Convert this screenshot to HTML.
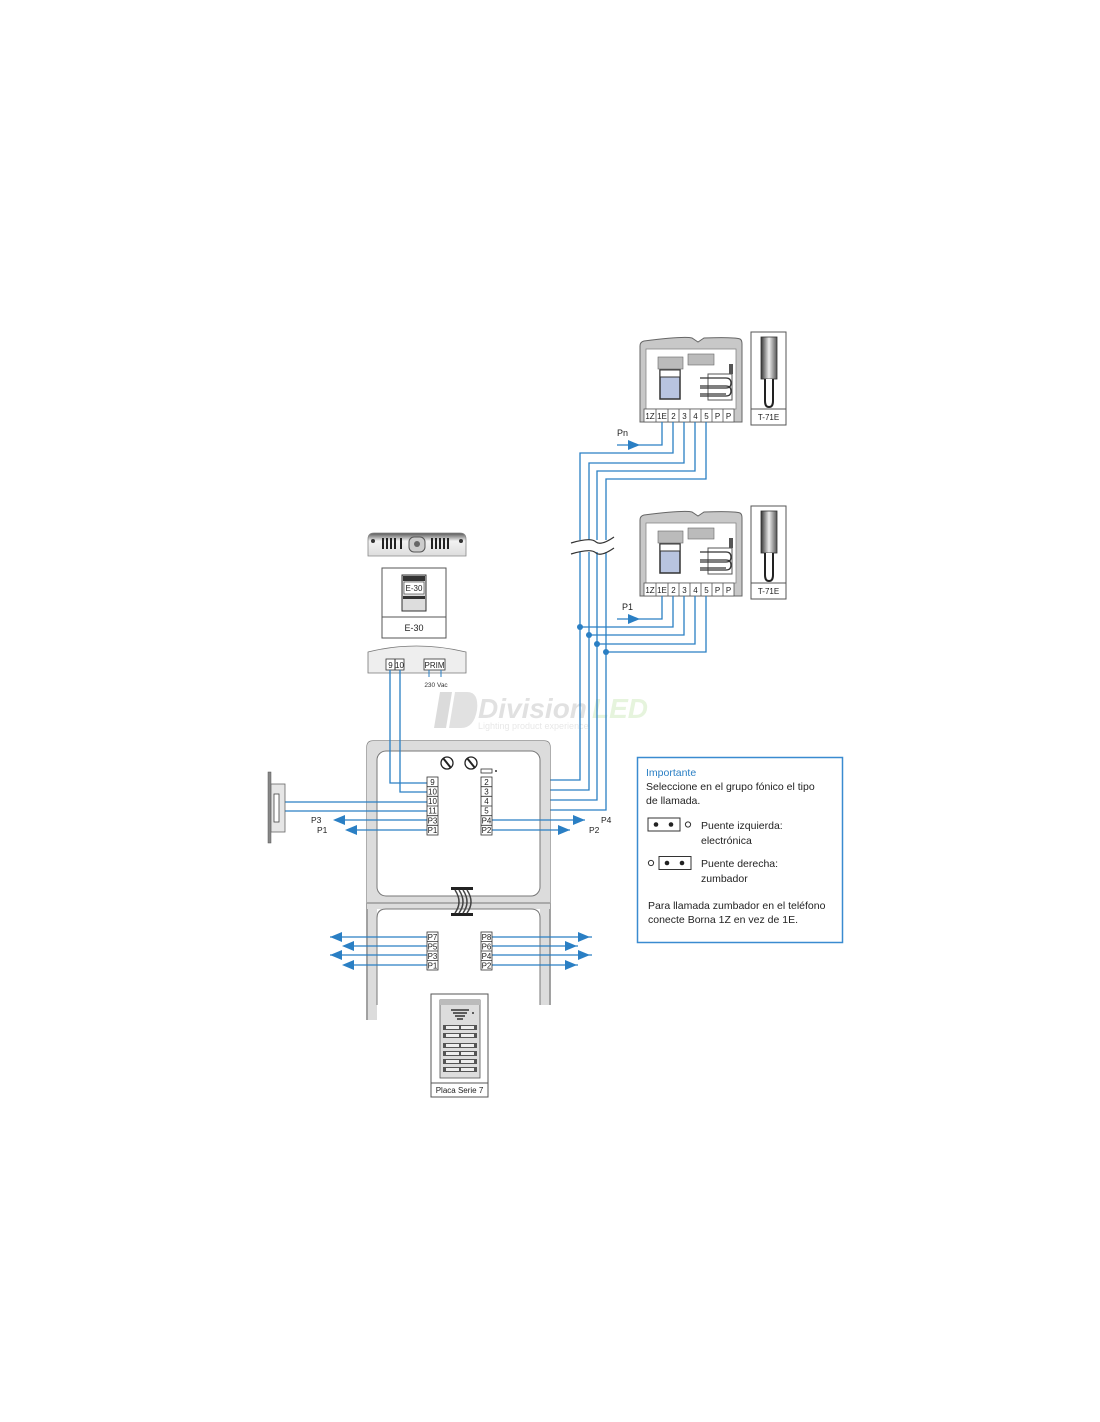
<!DOCTYPE html>
<html><head><meta charset="utf-8"><style>
html,body{margin:0;padding:0;background:#fff;}
svg{display:block;font-family:"Liberation Sans",sans-serif;}
</style></head><body>
<svg width="1100" height="1422" viewBox="0 0 1100 1422" xmlns="http://www.w3.org/2000/svg">
<defs>
<linearGradient id="hs" x1="0" x2="1"><stop offset="0" stop-color="#333"/><stop offset="0.5" stop-color="#eee"/><stop offset="1" stop-color="#555"/></linearGradient>
<linearGradient id="tg" x1="0" y1="0" x2="0" y2="1"><stop offset="0" stop-color="#555"/><stop offset="0.35" stop-color="#f2f2f2"/><stop offset="1" stop-color="#ddd"/></linearGradient>
</defs>

<!-- watermark -->
<g opacity="0.35">
<path d="M440 692 h12 l-6 36 h-12z" fill="#999"/><path d="M455 692 h12 q12 0 10 18 q-3 18 -16 18 h-12z" fill="#aaa"/>
<text x="478" y="718" font-size="28" font-weight="bold" font-style="italic" fill="#aaa">Division</text>
<text x="592" y="718" font-size="28" font-weight="bold" font-style="italic" fill="#b8e0a0">LED</text>
<text x="478" y="729" font-size="9" fill="#bbb">Lighting product experience</text>
</g>

<!-- ===== Phones ===== -->
<g id="ph1">
<path d="M640 422 V346 q0-4 4-5 q40-5 48-3 l6 4 l6-4 q30-1 36 1 q2 1 2 5 V422z" fill="#c8c8c8" stroke="#666" stroke-width="1"/>
<rect x="646" y="349" width="90" height="60" fill="#fff" stroke="#888" stroke-width="0.8"/>
<rect x="658" y="357" width="25" height="12" fill="#bbb" stroke="#666" stroke-width="0.6"/>
<rect x="660" y="370" width="20" height="29" fill="#b8c4e0" stroke="#333" stroke-width="1.5"/>
<rect x="660" y="370" width="20" height="7" fill="#fff" stroke="#333" stroke-width="1"/>
<rect x="688" y="354" width="26" height="11" fill="#bbb" stroke="#666" stroke-width="0.6"/>
<rect x="708" y="374" width="24" height="26" fill="none" stroke="#555" stroke-width="1"/>
<path d="M700 378 h26 q5 0 5 5 q0 5 -5 5 h-26 M700 386 h26 q5 0 5 5 q0 5-5 5 h-26 M700 394 h26" fill="none" stroke="#333" stroke-width="1.3"/>
<rect x="729" y="364" width="4" height="10" fill="#555"/>
<g font-size="8" fill="#222" text-anchor="middle">
<rect x="644" y="409" width="90" height="13" fill="#fff" stroke="#555" stroke-width="0.8"/>
<path d="M656 409v13M668 409v13M679 409v13M690 409v13M701 409v13M712 409v13M723 409v13" stroke="#555" stroke-width="0.8"/>
<text x="650" y="419">1Z</text><text x="662" y="419">1E</text><text x="673.5" y="419">2</text><text x="684.5" y="419">3</text><text x="695.5" y="419">4</text><text x="706.5" y="419">5</text><text x="717.5" y="419">P</text><text x="728.5" y="419">P</text>
</g>
<rect x="751" y="332" width="35" height="93" fill="#fff" stroke="#555" stroke-width="1"/>
<line x1="751" y1="409" x2="786" y2="409" stroke="#555"/>
<rect x="761" y="337" width="16" height="42" fill="url(#hs)" stroke="#333" stroke-width="0.8"/>
<path d="M765 379 v22 q0 6 4 6 q4 0 4-6 v-22" fill="#fff" stroke="#222" stroke-width="2"/>
<text x="768.5" y="420" font-size="8" text-anchor="middle" fill="#222">T-71E</text>
</g>
<g transform="translate(0,174)">
<path d="M640 422 V346 q0-4 4-5 q40-5 48-3 l6 4 l6-4 q30-1 36 1 q2 1 2 5 V422z" fill="#c8c8c8" stroke="#666" stroke-width="1"/>
<rect x="646" y="349" width="90" height="60" fill="#fff" stroke="#888" stroke-width="0.8"/>
<rect x="658" y="357" width="25" height="12" fill="#bbb" stroke="#666" stroke-width="0.6"/>
<rect x="660" y="370" width="20" height="29" fill="#b8c4e0" stroke="#333" stroke-width="1.5"/>
<rect x="660" y="370" width="20" height="7" fill="#fff" stroke="#333" stroke-width="1"/>
<rect x="688" y="354" width="26" height="11" fill="#bbb" stroke="#666" stroke-width="0.6"/>
<rect x="708" y="374" width="24" height="26" fill="none" stroke="#555" stroke-width="1"/>
<path d="M700 378 h26 q5 0 5 5 q0 5 -5 5 h-26 M700 386 h26 q5 0 5 5 q0 5-5 5 h-26 M700 394 h26" fill="none" stroke="#333" stroke-width="1.3"/>
<rect x="729" y="364" width="4" height="10" fill="#555"/>
<g font-size="8" fill="#222" text-anchor="middle">
<rect x="644" y="409" width="90" height="13" fill="#fff" stroke="#555" stroke-width="0.8"/>
<path d="M656 409v13M668 409v13M679 409v13M690 409v13M701 409v13M712 409v13M723 409v13" stroke="#555" stroke-width="0.8"/>
<text x="650" y="419">1Z</text><text x="662" y="419">1E</text><text x="673.5" y="419">2</text><text x="684.5" y="419">3</text><text x="695.5" y="419">4</text><text x="706.5" y="419">5</text><text x="717.5" y="419">P</text><text x="728.5" y="419">P</text>
</g>
<rect x="751" y="332" width="35" height="93" fill="#fff" stroke="#555" stroke-width="1"/>
<line x1="751" y1="409" x2="786" y2="409" stroke="#555"/>
<rect x="761" y="337" width="16" height="42" fill="url(#hs)" stroke="#333" stroke-width="0.8"/>
<path d="M765 379 v22 q0 6 4 6 q4 0 4-6 v-22" fill="#fff" stroke="#222" stroke-width="2"/>
<text x="768.5" y="420" font-size="8" text-anchor="middle" fill="#222">T-71E</text>
</g>

<!-- ===== Riser wires ===== -->
<g fill="none" stroke="#2a7fc4" stroke-width="1.3">
<path d="M662 422 V445 H617"/>
<path d="M673 422 V453 H580 V780 H493"/>
<path d="M684 422 V463 H589 V790 H493"/>
<path d="M695 422 V471 H597 V800 H493"/>
<path d="M706 422 V479 H606 V810 H493"/>
<path d="M662 596 V619 H617"/>
<path d="M673 596 V627 H580"/>
<path d="M684 596 V635 H589"/>
<path d="M695 596 V644 H597"/>
<path d="M706 596 V652 H606"/>
</g>
<path d="M628 440 L640 445 L628 450z" fill="#2a7fc4"/>
<path d="M628 614 L640 619 L628 624z" fill="#2a7fc4"/>
<text x="617" y="436" font-size="9" fill="#222">Pn</text>
<text x="622" y="610" font-size="9" fill="#222">P1</text>
<g fill="#2a7fc4"><circle cx="580" cy="627" r="3"/><circle cx="589" cy="635" r="3"/><circle cx="597" cy="644" r="3"/><circle cx="606" cy="652" r="3"/></g>
<!-- break -->
<rect x="570" y="540" width="45" height="12" fill="#fff"/>
<path d="M571 543 q20-6 25 -1 q5 4 18-5 M571 554 q20-6 25-1 q5 4 18-5" fill="none" stroke="#333" stroke-width="1.2"/>

<!-- ===== E-30 ===== -->
<path d="M368 556 V539 q0-6 6-6 h86 q6 0 6 6 v17z" fill="url(#tg)" stroke="#888" stroke-width="0.8"/>
<g stroke="#222" stroke-width="2"><path d="M383 538v11M387 538v11M391 538v11M395 538v11M401 538v11M432 538v11M436 538v11M440 538v11M444 538v11M448 538v11"/></g>
<rect x="409" y="537" width="16" height="15" rx="5" fill="#ccc" stroke="#555"/><circle cx="417" cy="544" r="3" fill="#666"/>
<circle cx="373" cy="541" r="2" fill="#333"/><circle cx="461" cy="541" r="2" fill="#333"/>
<rect x="382" y="568" width="64" height="70" fill="#fff" stroke="#555" stroke-width="1"/>
<line x1="382" y1="617" x2="446" y2="617" stroke="#555"/>
<rect x="402" y="575" width="24" height="36" fill="#ddd" stroke="#333" stroke-width="1"/>
<rect x="403" y="576" width="22" height="5" fill="#333"/>
<rect x="404" y="582" width="20" height="12" fill="#fff" stroke="#333" stroke-width="0.6"/>
<text x="414" y="591" font-size="8" text-anchor="middle" fill="#222">E-30</text>
<rect x="403" y="596" width="22" height="3" fill="#333"/>
<text x="414" y="631" font-size="9" text-anchor="middle" fill="#222">E-30</text>
<path d="M368 673 V652 q48-12 98 0 V673z" fill="#eee" stroke="#777" stroke-width="0.8"/>
<rect x="386" y="659" width="18" height="11" fill="#fff" stroke="#333" stroke-width="0.8"/><line x1="395" y1="659" x2="395" y2="670" stroke="#333"/>
<text x="390.5" y="668" font-size="8" text-anchor="middle" fill="#222">9</text><text x="399.5" y="668" font-size="8" text-anchor="middle" fill="#222">10</text>
<rect x="424" y="659" width="21" height="11" fill="#fff" stroke="#333" stroke-width="0.8"/>
<text x="434.5" y="668" font-size="8" text-anchor="middle" fill="#222">PRIM</text>
<path d="M429 670v7M441 670v7" stroke="#2a7fc4" stroke-width="1"/>
<text x="436" y="687" font-size="6.5" text-anchor="middle" fill="#333">230 Vac</text>

<!-- ===== Main panel ===== -->
<path d="M367 1020 V747 q0-6 6-6 h171 q6 0 6 6 V1005" fill="none" stroke="#777" stroke-width="1.2"/>
<path d="M367 747 q0-6 6-6 h171 q6 0 6 6 V903 H367z" fill="#dcdcdc"/>
<rect x="377" y="751" width="163" height="145" rx="9" fill="#fff" stroke="#777" stroke-width="1"/>
<path d="M367 903 h183 v102" fill="none" stroke="#777"/>
<rect x="367" y="903" width="10" height="117" fill="#dcdcdc"/>
<rect x="540" y="903" width="10" height="102" fill="#dcdcdc"/>
<path d="M367 903 V1020 M550 903 V1005" stroke="#777" stroke-width="1.2"/>
<rect x="367" y="901" width="183" height="8" fill="#dcdcdc"/>
<line x1="367" y1="903" x2="550" y2="903" stroke="#777"/>
<path d="M377 1005 V918 q0-9 9-9 h145 q9 0 9 9 V1005" fill="#fff" stroke="#777" stroke-width="1"/>
<!-- cable -->
<rect x="451" y="887" width="22" height="3" fill="#222"/><rect x="451" y="913" width="22" height="3" fill="#222"/>
<path d="M455 890 q8 12 0 23 M459 890 q8 12 0 23 M463 890 q8 12 0 23 M467 890 q8 12 0 23" fill="none" stroke="#444" stroke-width="1.5"/>
<!-- screws -->
<g fill="#fff" stroke="#222" stroke-width="1.3"><circle cx="447" cy="763" r="6"/><circle cx="471" cy="763" r="6"/></g>
<path d="M443 758 l8 10 M467 758 l8 10" stroke="#222" stroke-width="2"/>
<rect x="481" y="769" width="11" height="4" fill="#fff" stroke="#333" stroke-width="0.8"/><circle cx="496" cy="771" r="1" fill="#333"/>

<!-- E30 wires -->
<g fill="none" stroke="#2a7fc4" stroke-width="1.3">
<path d="M390 670 V783 H427"/><path d="M400 670 V792 H427"/>
<path d="M285 802 H427"/><path d="M285 811 H427"/>
<path d="M335 820 H427"/><path d="M347 830 H427"/>
<path d="M492 820 H585"/><path d="M492 830 H570"/>
<path d="M330 937 H427"/><path d="M345 946 H427"/><path d="M330 955 H427"/><path d="M345 965 H427"/>
<path d="M492 937 H592"/><path d="M492 946 H578"/><path d="M492 955 H592"/><path d="M492 965 H578"/>
</g>
<g fill="#2a7fc4">
<path d="M333 820 l12-5 v10z"/><path d="M345 830 l12-5 v10z"/>
<path d="M585 820 l-12-5 v10z"/><path d="M570 830 l-12-5 v10z"/>
<path d="M330 937 l12-5 v10z"/><path d="M342 946 l12-5 v10z"/><path d="M330 955 l12-5 v10z"/><path d="M342 965 l12-5 v10z"/>
<path d="M590 937 l-12-5 v10z"/><path d="M577 946 l-12-5 v10z"/><path d="M590 955 l-12-5 v10z"/><path d="M577 965 l-12-5 v10z"/>
</g>
<g font-size="8.5" fill="#222">
<text x="311" y="823">P3</text><text x="317" y="833">P1</text>
<text x="601" y="823">P4</text><text x="589" y="833">P2</text>
</g>
<!-- terminal blocks -->
<g font-size="8" fill="#222" text-anchor="middle">
<rect x="427" y="777" width="11" height="58" fill="#fff" stroke="#333" stroke-width="0.8"/>
<path d="M427 786.7h11M427 796.3h11M427 806h11M427 815.7h11M427 825.3h11" stroke="#333" stroke-width="0.8"/>
<text x="432.5" y="785">9</text><text x="432.5" y="794.5">10</text><text x="432.5" y="804">10</text><text x="432.5" y="813.5">11</text><text x="432.5" y="823.5">P3</text><text x="432.5" y="833">P1</text>
<rect x="481" y="777" width="11" height="58" fill="#fff" stroke="#333" stroke-width="0.8"/>
<path d="M481 786.7h11M481 796.3h11M481 806h11M481 815.7h11M481 825.3h11" stroke="#333" stroke-width="0.8"/>
<text x="486.5" y="785">2</text><text x="486.5" y="794.5">3</text><text x="486.5" y="804">4</text><text x="486.5" y="813.5">5</text><text x="486.5" y="823.5">P4</text><text x="486.5" y="833">P2</text>
<rect x="427" y="932" width="11" height="38" fill="#fff" stroke="#333" stroke-width="0.8"/>
<path d="M427 941.5h11M427 951h11M427 960.5h11" stroke="#333" stroke-width="0.8"/>
<text x="432.5" y="940">P7</text><text x="432.5" y="949.5">P5</text><text x="432.5" y="959">P3</text><text x="432.5" y="968.5">P1</text>
<rect x="481" y="932" width="11" height="38" fill="#fff" stroke="#333" stroke-width="0.8"/>
<path d="M481 941.5h11M481 951h11M481 960.5h11" stroke="#333" stroke-width="0.8"/>
<text x="486.5" y="940">P8</text><text x="486.5" y="949.5">P6</text><text x="486.5" y="959">P4</text><text x="486.5" y="968.5">P2</text>
</g>
<!-- lock -->
<rect x="268" y="772" width="3" height="71" fill="#888" stroke="#555" stroke-width="0.5"/>
<rect x="271" y="784" width="14" height="48" fill="#e6e6e6" stroke="#666" stroke-width="0.8"/>
<rect x="274" y="794" width="5" height="28" fill="#fff" stroke="#444" stroke-width="0.8"/>

<!-- Placa -->
<rect x="431" y="994" width="57" height="103" fill="#fff" stroke="#555" stroke-width="1"/>
<line x1="431" y1="1083" x2="488" y2="1083" stroke="#555"/>
<rect x="440" y="1000" width="40" height="78" fill="#ddd" stroke="#555" stroke-width="0.8"/>
<rect x="440" y="1000" width="40" height="5" fill="#bbb"/>
<path d="M451 1010h18M453 1013h14M455 1016h10M457 1019h6" stroke="#333" stroke-width="1.5"/>
<circle cx="473" cy="1013" r="1" fill="#333"/>
<g fill="#555"><rect x="443" y="1025" width="34" height="5"/><rect x="443" y="1033" width="34" height="5"/><rect x="443" y="1043" width="34" height="5"/><rect x="443" y="1051" width="34" height="5"/><rect x="443" y="1059" width="34" height="5"/><rect x="443" y="1067" width="34" height="5"/></g>
<g fill="#eee"><rect x="446" y="1026" width="13" height="3"/><rect x="461" y="1026" width="13" height="3"/><rect x="446" y="1034" width="13" height="3"/><rect x="461" y="1034" width="13" height="3"/><rect x="446" y="1044" width="13" height="3"/><rect x="461" y="1044" width="13" height="3"/><rect x="446" y="1052" width="13" height="3"/><rect x="461" y="1052" width="13" height="3"/><rect x="446" y="1060" width="13" height="3"/><rect x="461" y="1060" width="13" height="3"/><rect x="446" y="1068" width="13" height="3"/><rect x="461" y="1068" width="13" height="3"/></g>
<text x="459.5" y="1093" font-size="8" text-anchor="middle" fill="#222">Placa Serie 7</text>

<!-- Importante box -->
<rect x="637.5" y="757.5" width="205" height="185" fill="#fff" stroke="#3a8bd0" stroke-width="1.5"/>
<g font-size="10.5" fill="#222">
<text x="646" y="776" fill="#2a7fc4">Importante</text>
<text x="646" y="790">Seleccione en el grupo fónico el tipo</text>
<text x="646" y="804">de llamada.</text>
<text x="701" y="829">Puente izquierda:</text>
<text x="701" y="844">electrónica</text>
<text x="701" y="867">Puente derecha:</text>
<text x="701" y="882">zumbador</text>
<text x="648" y="909">Para llamada zumbador en el teléfono</text>
<text x="648" y="923">conecte Borna 1Z en vez de 1E.</text>
</g>
<rect x="648" y="818" width="32" height="13" fill="#fff" stroke="#333" stroke-width="1"/>
<circle cx="656" cy="824.5" r="2.3" fill="#222"/><circle cx="671" cy="824.5" r="2.3" fill="#222"/>
<circle cx="688" cy="824.5" r="2.6" fill="#fff" stroke="#333"/>
<circle cx="651" cy="863" r="2.6" fill="#fff" stroke="#333"/>
<rect x="659" y="856.5" width="32" height="13" fill="#fff" stroke="#333" stroke-width="1"/>
<circle cx="667" cy="863" r="2.3" fill="#222"/><circle cx="682" cy="863" r="2.3" fill="#222"/>
</svg>
</body></html>
